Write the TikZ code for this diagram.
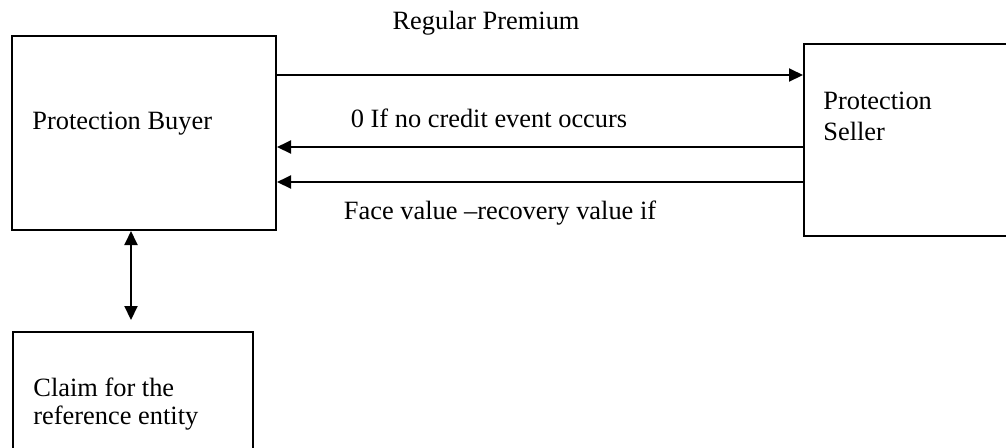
\documentclass[tikz,border=0pt]{standalone}
\usepackage{fontspec}
\setmainfont{Liberation Serif}
\usetikzlibrary{arrows.meta,calc}

\tikzset{
  party/.style={draw, line width=1pt, rectangle, inner sep=0pt, anchor=north west},
  flow/.style={line width=1pt, -{Triangle[length=7pt,width=6.5pt]}},
  txt/.style={inner sep=0pt, font=\fontsize{13.2}{15}\selectfont}
}

\begin{document}
\begin{tikzpicture}[x=0.5pt,y=-0.5pt]
   \useasboundingbox (0,0) rectangle (1006,447);
   % the three parties
   \node[party, minimum width=132pt, minimum height=97pt] (buyer) at (11,35) {};
   \node[party, minimum width=125pt, minimum height=96pt] (seller) at (803,43) {};
   \node[party, minimum width=120pt, minimum height=70pt] (claim) at (12,331) {};
   \node[txt, anchor=west] (buyertxt) at (32,124) {Protection Buyer};
   \node[txt, anchor=west, align=left, font=\fontsize{13.2}{15.5}\selectfont] (sellertxt) at (823,116) {Protection\\Seller};
   \node[txt, anchor=west, align=left, font=\fontsize{13.2}{14}\selectfont] (claimtxt) at (33,404) {Claim for the\\reference entity};
   % payments
   \draw[flow] ($(buyer.north east)+(0,40)$) -- ($(seller.north west)+(0,32)$);
   \draw[flow] ($(seller.north west)+(0,104)$) -- ($(buyer.north east)+(0,112)$);
   \draw[flow] ($(seller.north west)+(0,139)$) -- ($(buyer.north east)+(0,147)$);
   \draw[flow, {Triangle[length=7pt,width=6.5pt]}-{Triangle[length=7pt,width=6.5pt]}] ($(buyer.south west)+(120,0)$) -- ($(claim.north west)+(119,-11)$);
   \node[txt] (premium) at (486,23) {Regular Premium};
   \node[txt] (nocredit) at (489,118) {0 If no credit event occurs};
   \node[txt] (facevalue) at (500,213) {Face value –recovery value if};
\end{tikzpicture}
\end{document}
